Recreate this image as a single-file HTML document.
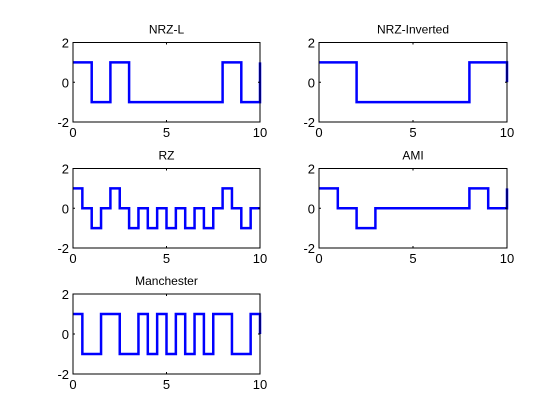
<!DOCTYPE html>
<html><head><meta charset="utf-8"><style>
body{margin:0;background:#fff;}
svg{display:block;font-family:"Liberation Sans",Arial,sans-serif;}
</style></head><body>
<svg id="fig" width="560" height="420"></svg>
<script>
const titles = ["NRZ-L","NRZ-Inverted","RZ","AMI","Manchester"];
const nrzlLevels = [1,-1,1,-1,-1,-1,-1,-1,1,-1,1];
const nrziLevels = [1,1,-1,-1,-1,-1,-1,-1,1,1,0];
const rzLevels = [1,0,-1,0,1,0,-1,0,-1,0,-1,0,-1,0,-1,0,1,0,-1,0,0];
const amiLevels = [1,0,-1,0,0,0,0,0,1,0,1];
const manLevels = [1,-1,-1,1,1,-1,-1,1,-1,1,-1,1,-1,1,-1,1,1,-1,-1,1,0];
const xTicks = [0,5,10];
const yTicks = [-2,0,2];
const series = [
  {levels:nrzlLevels, step:1},
  {levels:nrziLevels, step:1},
  {levels:rzLevels, step:0.5},
  {levels:amiLevels, step:1},
  {levels:manLevels, step:0.5}
];
const boxes = [
  [73,42.5,260,122],[319,42.5,507,122],
  [73,168.5,260,248],[319,168.5,507,248],
  [73,294,260,374]
];
const NS="http://www.w3.org/2000/svg";
const svg=document.getElementById('fig');
function mk(tag,attrs,parent){const e=document.createElementNS(NS,tag);for(const k in attrs)e.setAttribute(k,attrs[k]);(parent||svg).appendChild(e);return e;}
const names=["nrz-l","nrz-inverted","rz","ami","manchester"];
boxes.forEach((b,i)=>{
  const [x0,y0,x1,y1]=b;
  const g=mk('g',{});
  
  
  const sx=v=>x0+(v-0)/(10-0)*(x1-x0);
  const sy=v=>y1-(v+2)/4*(y1-y0);
  mk('rect',{x:x0,y:y0,width:x1-x0,height:y1-y0,fill:'#fff',stroke:'none'},g);
  const s=series[i];
  let d='';
  const L=s.levels;
  for(let k=0;k<L.length-1;k++){
    const xa=sx(k*s.step), xb=sx((k+1)*s.step), y=sy(L[k]);
    d+=(k===0?'M':'L')+xa+','+y+' L'+xb+','+y+' ';
  }
  d+='L'+sx((L.length-1)*s.step)+','+sy(L[L.length-1]);
  const p=mk('path',{d:d,fill:'none',stroke:'#0000ff','stroke-width':2.5,'stroke-linejoin':'miter'},g);
  
  
  mk('rect',{x:x0,y:y0,width:x1-x0,height:y1-y0,fill:'none',stroke:'#000','stroke-width':1},g);
  xTicks.forEach(t=>{
    const x=sx(t);
    mk('line',{x1:x,y1:y1,x2:x,y2:y1-2,stroke:'#000'},g);
    mk('line',{x1:x,y1:y0,x2:x,y2:y0+2,stroke:'#000'},g);
    const tx=mk('text',{x:x,y:y1+15,'font-size':13,'text-anchor':'middle',fill:'#000'},g);
    tx.textContent=t;
    
    
  });
  yTicks.forEach(t=>{
    const y=sy(t);
    mk('line',{x1:x0,y1:y,x2:x0+2,y2:y,stroke:'#000'},g);
    mk('line',{x1:x1,y1:y,x2:x1-2,y2:y,stroke:'#000'},g);
    const ty=mk('text',{x:x0-4,y:y+5,'font-size':13,'text-anchor':'end',fill:'#000'},g);
    ty.textContent=t;
    
    
  });
  const tt=mk('text',{x:(x0+x1)/2,y:y0-9,'font-size':12,'text-anchor':'middle',fill:'#000'},g);
  tt.textContent=titles[i];
  
  
});
</script>
</body></html>
